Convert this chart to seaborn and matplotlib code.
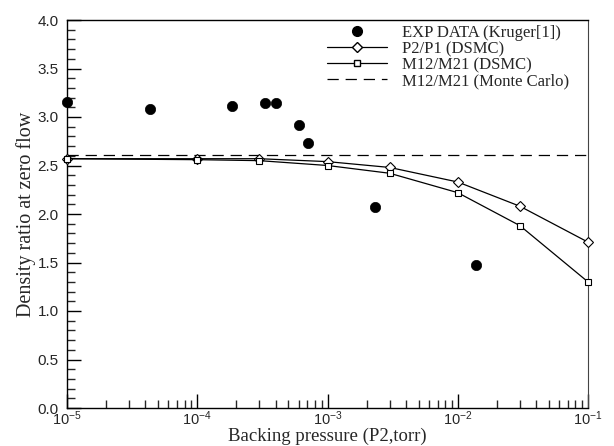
import matplotlib
matplotlib.use("Agg")
import matplotlib.pyplot as plt
import seaborn as sns
import pandas as pd
import numpy as np
from matplotlib.ticker import LogLocator, MultipleLocator, NullFormatter, LogFormatterSciNotation
from matplotlib.lines import Line2D

exp_p = [1e-5, 4.3e-5, 1.85e-4, 3.3e-4, 4.0e-4, 6.0e-4, 7.1e-4, 2.3e-3, 1.37e-2]
exp_r = [3.15, 3.08, 3.11, 3.14, 3.14, 2.92, 2.73, 2.07, 1.47]

dsmc_p = [1e-5, 1e-4, 3e-4, 1e-3, 3e-3, 1e-2, 3e-2, 1e-1]
p2p1 = [2.57, 2.57, 2.57, 2.54, 2.48, 2.33, 2.08, 1.71]
m12m21 = [2.57, 2.56, 2.55, 2.50, 2.42, 2.22, 1.88, 1.30]

mc_value = 2.61

legend_labels = ["EXP DATA (Kruger[1])", "P2/P1 (DSMC)", "M12/M21 (DSMC)", "M12/M21 (Monte Carlo)"]

sns.set_style("white")
plt.rcParams['font.family'] = ['Liberation Sans', 'DejaVu Sans']
plt.rcParams['mathtext.fontset'] = 'custom'
plt.rcParams['mathtext.rm'] = 'Liberation Sans'
plt.rcParams['mathtext.default'] = 'regular'

W, H = 614, 446
left_px, right_px, top_px, bottom_px = 67, 588, 20, 408
fig = plt.figure(figsize=(W / 100, H / 100), dpi=100)
ax = fig.add_axes([left_px / W, (H - bottom_px) / H,
                   (right_px - left_px) / W, (bottom_px - top_px) / H])
ax_h = bottom_px - top_px

df_exp = pd.DataFrame({"p": exp_p, "r": exp_r})
df_d = pd.DataFrame({"p": dsmc_p, "P2/P1": p2p1, "M12/M21": m12m21})

DASH = (9, 5.5)

sns.scatterplot(data=df_exp, x="p", y="r", ax=ax, color="black", s=55,
                edgecolor="black", linewidth=0.5, zorder=4, clip_on=False, legend=False)
sns.lineplot(data=df_d, x="p", y="P2/P1", ax=ax, color="black", lw=0.9,
             marker="D", markersize=5, markerfacecolor="white", markeredgecolor="black",
             markeredgewidth=0.8, zorder=3, clip_on=False)
sns.lineplot(data=df_d, x="p", y="M12/M21", ax=ax, color="black", lw=0.9,
             marker="s", markersize=5, markerfacecolor="white", markeredgecolor="black",
             markeredgewidth=0.8, zorder=3, clip_on=False)
ax.axhline(mc_value, color="black", lw=0.9, dashes=DASH, zorder=2)

ax.set_xscale("log")
ax.set_xlim(1e-5, 1e-1)
ax.set_ylim(0, 4)

ax.xaxis.set_major_locator(LogLocator(base=10, numticks=10))
ax.xaxis.set_minor_locator(LogLocator(base=10, subs=np.arange(2, 10), numticks=20))
ax.xaxis.set_minor_formatter(NullFormatter())
ax.xaxis.set_major_formatter(LogFormatterSciNotation())
ax.yaxis.set_major_locator(MultipleLocator(0.5))
ax.yaxis.set_minor_locator(MultipleLocator(0.1))
ax.yaxis.set_major_formatter(plt.FuncFormatter(lambda v, p: f"{v:.1f}"))

ax.tick_params(axis="both", which="major", direction="in", length=10, width=1,
               labelsize=11, color="black", top=False, right=False, left=True, bottom=True)
ax.tick_params(axis="y", which="major", pad=6)
ax.tick_params(axis="x", which="major", pad=1, labelsize=10.5)
ax.tick_params(axis="both", which="minor", direction="in", length=6, width=1,
               top=False, right=False, left=True, bottom=True)
for s in ["left", "bottom", "top", "right"]:
    ax.spines[s].set_visible(True)
    ax.spines[s].set_color("black")
    ax.spines[s].set_linewidth(1.0)
ax.spines["right"].set_linewidth(0.8)
ax.spines["right"].set_color("#444444")

serif = ['Liberation Serif', 'DejaVu Serif']
ax.set_xlabel("Backing pressure (P2,torr)", family=serif, fontsize=13.5, va="bottom")
ax.xaxis.set_label_coords(0.5, -(H - bottom_px - 1) / ax_h)
ax.set_ylabel("Density ratio at zero flow", family=serif, fontsize=14.5, labelpad=1)

handles = [
    Line2D([], [], color="black", marker="o", ls="none", markersize=7),
    Line2D([], [], color="black", lw=0.9, marker="D", markersize=5, markerfacecolor="white"),
    Line2D([], [], color="black", lw=0.9, marker="s", markersize=5, markerfacecolor="white"),
    Line2D([], [], color="black", lw=0.9, dashes=DASH),
]
leg = ax.legend(handles, legend_labels, loc="upper right",
                bbox_to_anchor=(1.0 - 14 / (right_px - left_px), 1.0),
                frameon=False, prop={"family": serif, "size": 12},
                handlelength=3.6, handletextpad=0.9, labelspacing=0.0,
                borderaxespad=0.0, borderpad=0.3)

fig.savefig("out.png", dpi=100)
